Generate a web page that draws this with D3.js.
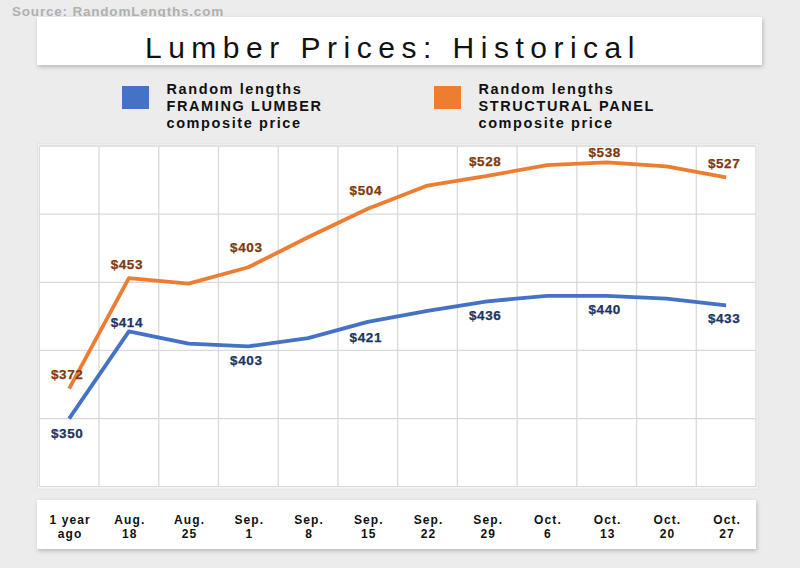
<!DOCTYPE html>
<html>
<head>
<meta charset="utf-8">
<script src="https://cdn.jsdelivr.net/npm/d3@7"></script>
<style>
  html, body { margin: 0; padding: 0; background: #ececec; }
  svg { display: block; font-family: "Liberation Sans", Arial, sans-serif; }
</style>
</head>
<body>
<svg id="chart" width="800" height="568"></svg>
<script>
// ---- data ----
const categories = [["1 year", "ago"], ["Aug.", "18"], ["Aug.", "25"], ["Sep.", "1"], ["Sep.", "8"], ["Sep.", "15"],
  ["Sep.", "22"], ["Sep.", "29"], ["Oct.", "6"], ["Oct.", "13"], ["Oct.", "20"], ["Oct.", "27"]];
const framingLumber = [350, 414, 405, 403, 409, 421, 429, 436, 440, 440, 438, 433];
const structuralPanel = [372, 453, 449, 461, 483, 504, 521, 528, 536, 538, 535, 527];
const labelIndex = [0, 1, 3, 5, 7, 9, 11];
const framingLabels = ["$350", "$414", "$403", "$421", "$436", "$440", "$433"];
const panelLabels = ["$372", "$453", "$403", "$504", "$528", "$538", "$527"];
const yTicks = [300, 350, 400, 450, 500, 550];
const legendLines = [["Random lengths", "FRAMING LUMBER", "composite price"],
                     ["Random lengths", "STRUCTURAL PANEL", "composite price"]];

// ---- style / layout ----
const blue = "#4472c4", orange = "#ed7d31";
const blueText = "#1c3461", orangeText = "#80390b";
const framingDy = [19.5, -4, 18.5, 20.5, 18.5, 18.5, 17.5];
const panelDy = [-10, -9, -15, -13.5, -10, -5, -9.5];

const svg = d3.select("#chart");
const defs = svg.append("defs");
const f = defs.append("filter").attr("id", "shadow").attr("x", "-5%").attr("y", "-20%").attr("width", "110%").attr("height", "160%");
f.append("feDropShadow").attr("dx", 1).attr("dy", 2).attr("stdDeviation", 2).attr("flood-color", "#000").attr("flood-opacity", 0.22);

svg.append("rect").attr("width", 800).attr("height", 568).attr("fill", "#ececec");

// source
svg.append("text").attr("x", 12).attr("y", 16).text("Source: RandomLengths.com")
  .attr("fill", "#b0b0b0").attr("font-weight", "bold").attr("font-size", 13.5).attr("letter-spacing", 0.8);

// title box
svg.append("rect").attr("x", 37).attr("y", 17).attr("width", 725).attr("height", 48).attr("fill", "#fff").attr("filter", "url(#shadow)");
svg.append("text").attr("x", 145).attr("y", 58).text("Lumber Prices: Historical")
  .attr("font-size", 30).attr("letter-spacing", 6.5).attr("fill", "#111");

// legend
const legendX = [122, 434];
const legendCol = [blue, orange];
legendLines.forEach((lines, i) => {
  svg.append("rect").attr("x", legendX[i]).attr("y", 86).attr("width", 27).attr("height", 23).attr("fill", legendCol[i]);
  const t = svg.append("text").attr("x", legendX[i] + 44.5).attr("y", 94)
    .attr("font-weight", "bold").attr("font-size", 14.5).attr("letter-spacing", 1.6).attr("fill", "#111");
  lines.forEach((l, j) => t.append("tspan").attr("x", legendX[i] + 44.5).attr("y", 94 + j * 17).text(l));
});

// plot panel
svg.append("rect").attr("x", 37.5).attr("y", 144).attr("width", 720.5).attr("height", 345)
  .attr("fill", "#fff").attr("stroke", "#e0e0e0").attr("stroke-width", 1);

const x = d3.scaleBand().domain(d3.range(categories.length)).range([39.3, 756]).padding(0);
const y = d3.scaleLinear().domain([300, 550]).range([486.7, 146]);

const grid = svg.append("g").attr("stroke", "#d9d9d9").attr("stroke-width", 1.3);
const vlines = d3.range(categories.length + 1).map(i => i < categories.length ? x(i) : x.range()[1]);
grid.selectAll("line.v").data(vlines).join("line").attr("class", "v")
  .attr("x1", d => d).attr("x2", d => d).attr("y1", y(550)).attr("y2", y(300));
grid.selectAll("line.h").data(yTicks).join("line").attr("class", "h")
  .attr("x1", x.range()[0]).attr("x2", x.range()[1]).attr("y1", d => y(d)).attr("y2", d => y(d));

const cx = i => x(i) + x.bandwidth() / 2;
const line = d3.line().x((d, i) => cx(i)).y(d => y(d));

svg.append("path").datum(structuralPanel).attr("d", line).attr("fill", "none")
  .attr("stroke", orange).attr("stroke-width", 3.8).attr("stroke-linejoin", "round");
svg.append("path").datum(framingLumber).attr("d", line).attr("fill", "none")
  .attr("stroke", blue).attr("stroke-width", 3.8).attr("stroke-linejoin", "round");

// data labels
function labels(values, texts, dys, color) {
  svg.append("g").selectAll("text").data(labelIndex).join("text")
    .attr("x", (d) => cx(d) - 2)
    .attr("y", (d, k) => y(values[d]) + dys[k])
    .attr("text-anchor", "middle").attr("font-weight", "bold").attr("font-size", 13.5)
    .attr("letter-spacing", 0.6).attr("fill", color)
    .attr("stroke", color).attr("stroke-width", 0.25)
    .text((d, k) => texts[k]);
}
labels(structuralPanel, panelLabels, panelDy, orangeText);
labels(framingLumber, framingLabels, framingDy, blueText);

// x-axis label box
svg.append("rect").attr("x", 37).attr("y", 500).attr("width", 719).attr("height", 49)
  .attr("fill", "#fff").attr("filter", "url(#shadow)");
const xa = svg.append("g").attr("font-weight", "bold").attr("font-size", 12).attr("letter-spacing", 1.1).attr("fill", "#111");
xa.selectAll("text").data(categories).join("text")
  .attr("text-anchor", "middle")
  .each(function (d, i) {
    const t = d3.select(this);
    t.append("tspan").attr("x", cx(i) + 1).attr("y", 523.5).text(d[0]);
    t.append("tspan").attr("x", cx(i) + 1).attr("y", 538).text(d[1]);
  });
</script>
</body>
</html>
